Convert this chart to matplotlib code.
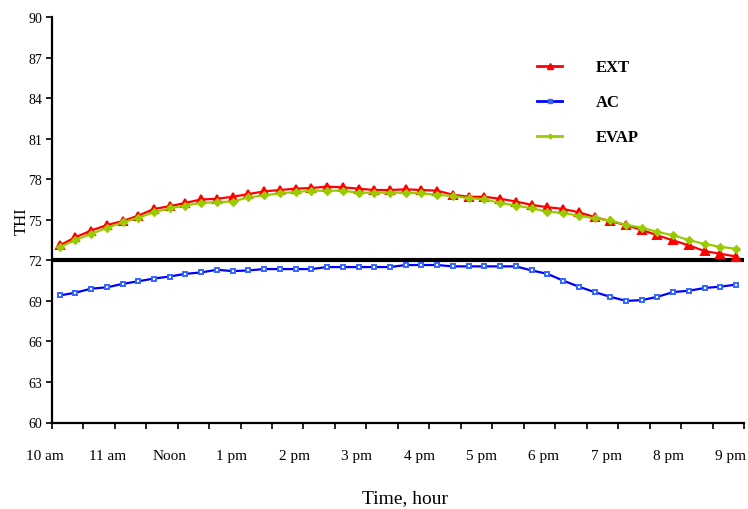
"""THI over the day for three housing treatments (EXT, AC, EVAP)."""

from __future__ import annotations

import numpy as np
from matplotlib import pyplot as plt
from matplotlib.lines import Line2D
from matplotlib.transforms import ScaledTranslation, blended_transform_factory

# readings every 15 min, 10:00 to 20:45
EXT = [73.1, 73.7, 74.2, 74.6, 74.9, 75.3, 75.8, 76.0, 76.25, 76.5, 76.55, 76.7,
       76.9, 77.1, 77.2, 77.3, 77.35, 77.45, 77.4, 77.3, 77.2, 77.2, 77.25, 77.2,
       77.15, 76.85, 76.7, 76.7, 76.55, 76.35, 76.1, 75.93, 75.8, 75.55, 75.2, 74.9,
       74.6, 74.25, 73.84, 73.47, 73.1, 72.68, 72.48, 72.28]
AC = [69.4, 69.6, 69.9, 70.0, 70.25, 70.45, 70.65, 70.8, 71.0, 71.1, 71.3, 71.2,
      71.25, 71.35, 71.35, 71.35, 71.35, 71.5, 71.5, 71.5, 71.5, 71.5, 71.65, 71.65,
      71.65, 71.55, 71.55, 71.55, 71.55, 71.55, 71.25, 71.0, 70.5, 70.05, 69.65, 69.3,
      69.0, 69.05, 69.3, 69.65, 69.75, 69.95, 70.05, 70.2]
EVAP = [72.95, 73.5, 73.95, 74.4, 74.8, 75.15, 75.55, 75.85, 76.05, 76.25, 76.3, 76.35,
        76.65, 76.8, 76.95, 77.05, 77.15, 77.15, 77.15, 77.0, 77.0, 77.0, 77.0, 76.95,
        76.85, 76.75, 76.6, 76.5, 76.25, 76.05, 75.85, 75.6, 75.5, 75.3, 75.1, 74.95,
        74.62, 74.42, 74.1, 73.85, 73.5, 73.2, 73.0, 72.85]
HOUR_LABELS = ["10 am", "11 am", "Noon", "1 pm", "2 pm", "3 pm", "4 pm",
               "5 pm", "6 pm", "7 pm", "8 pm", "9 pm"]
Y_TICKS = list(range(60, 91, 3))
THRESHOLD = 72

SERIES = [
    ("EXT", EXT, "#ff0000", "^", "#ff0000", 6),
    ("AC", AC, "#0000ff", "s", "#3366ff", 3.5),
    ("EVAP", EVAP, "#99cc00", "D", "#99cc00", 3.5),
]

plt.rcParams["font.family"] = ["Liberation Serif", "DejaVu Serif"]

fig = plt.figure(figsize=(7.48, 5.10), dpi=100)
ax = fig.add_axes([51.7 / 748, 86.5 / 510, 692.3 / 748, 405.5 / 510])

x = np.arange(len(EXT))
handles = []
for name, values, color, marker, mcolor, msize in SERIES:
    face = "white" if marker == "s" else mcolor
    ax.plot(x, values, color=color, linewidth=1.6, marker=marker, markersize=msize,
            markerfacecolor=face, markeredgecolor=mcolor, markeredgewidth=1.4, zorder=3)
    handles.append(Line2D([], [], color=color, linewidth=2, marker=marker,
                          markersize=msize - 1, markerfacecolor=mcolor,
                          markeredgecolor=mcolor, label=name))

ax.axhline(THRESHOLD, color="black", linewidth=3, zorder=2)

for side in ("top", "right"):
    ax.spines[side].set_visible(False)
for side in ("left", "bottom"):
    ax.spines[side].set_linewidth(1.6)

ax.set_yticks(Y_TICKS)
ax.tick_params(axis="y", direction="out", length=4, width=1.2, labelsize=10, pad=3)

# tick marks every half hour on category edges
ax.set_xticks(np.arange(-0.5, len(EXT), 2))
ax.set_xticklabels([])
ax.tick_params(axis="x", direction="out", length=4, width=1.2)
ax.set_xlim(-0.5, len(EXT) - 0.5)
ax.set_ylim(60, 90)

# hour labels sit a little left of every fourth category edge
base = blended_transform_factory(ax.transData, ax.transAxes)
for k, text in enumerate(HOUR_LABELS):
    shift = ScaledTranslation(-(7 + 6 * k / 11) / 100, -27 / 100, fig.dpi_scale_trans)
    ax.text(4 * k - 0.5, 0, text, transform=base + shift, ha="center", va="top",
            fontsize=11, clip_on=False)

ax.set_ylabel("THI", fontsize=12, labelpad=-1)
ax.set_xlabel("Time, hour", fontsize=14)
ax.xaxis.set_label_coords(0.51, -0.164)

ax.legend(handles=handles, loc="upper left", bbox_to_anchor=(529 / 748, 1 - 52 / 510),
          bbox_transform=fig.transFigure, frameon=False, handlelength=1.5,
          handletextpad=2.0, labelspacing=1.14, borderpad=0,
          prop={"size": 12, "weight": "bold"})

fig.savefig("out.png", dpi=100)
